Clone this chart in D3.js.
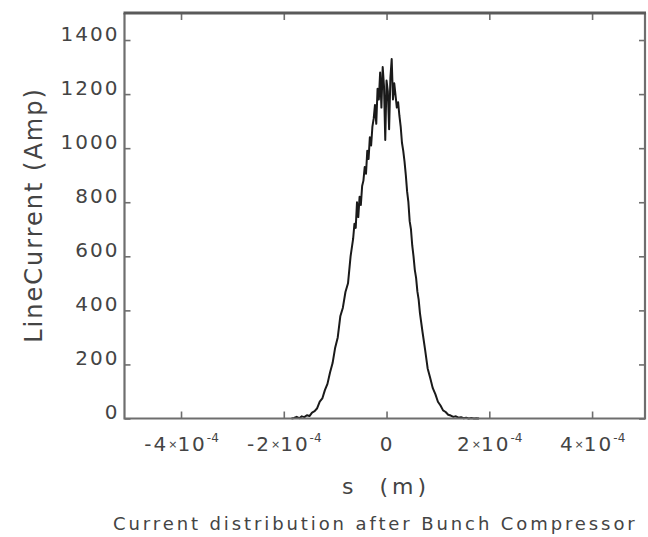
<html>
<head>
<meta charset="utf-8">
<title>Current distribution after Bunch Compressor</title>
<script src="https://d3js.org/d3.v7.min.js"></script>
<style>
    body { margin: 0; background: #fff; }
    svg { display: block; }
    .frame { fill: none; stroke: #6e6e6e; stroke-width: 2.2px; }
    .frame-top { stroke: #5a5a5a; stroke-width: 3px; }
    .axis path { display: none; }
    .axis line { stroke: #6e6e6e; stroke-width: 1.6px; }
    .axis text { fill: #444; font-family: "DejaVu Sans", sans-serif; font-size: 20px; letter-spacing: 2px; }
    .line { fill: none; stroke: #1a1a1a; stroke-width: 2px; stroke-linejoin: round; }
    .label { fill: #444; font-family: "DejaVu Sans", sans-serif; white-space: pre; }
</style>
</head>
<body>
<script>
    // s positions of the histogram bins (micrometres)
    var sMicron = [
        -185, -180, -175, -170, -165, -160, -155, -150, -145, -140, -135, -130, -125,
        -120, -115, -110, -105, -100, -95, -90, -85, -80, -75, -70, -65,
        -62.5, -60, -57.5, -55, -52.5, -50, -47.5, -45, -42.5, -40, -37.5, -35, -32.5,
        -30, -27.5, -25, -22.5, -20, -17.5, -15, -12.5, -10, -7.5, -5, -2.5,
        0, 2.5, 5, 7.5, 10, 12.5, 15, 17.5, 20, 22.5, 25, 27.5, 30, 32.5, 35, 37.5,
        40, 42.5, 45, 47.5, 50, 52.5, 55, 57.5, 60, 62.5,
        65, 70, 75, 80, 85, 90, 95, 100, 105, 110, 115, 120, 125, 130, 135, 140,
        145, 150, 155, 160, 165, 170, 175, 180
    ];
    // line current per bin (Amp)
    var currentAmp = [
        0, 2, 6, 1, 8, 5, 12, 9, 22, 27, 38, 62, 74,
        105, 128, 170, 205, 262, 300, 378, 410, 468, 500, 600, 665,
        720, 705, 800, 745, 820, 790, 860, 880, 930, 905, 990, 960, 1040,
        1010, 1080, 1110, 1160, 1090, 1220, 1180, 1280, 1150, 1300, 1230, 1030,
        1250, 1210, 1070, 1260, 1330, 1180, 1240, 1195, 1150, 1170, 1120, 1080, 1020, 990, 950, 900,
        840, 800, 730, 700, 640, 600, 550, 520, 470, 440,
        390, 320, 255, 185, 150, 112, 90, 62, 48, 30, 24, 14, 11, 6, 8, 3,
        5, 1, 3, 0, 2, 0, 1, 0
    ];

    // axis ticks
    var xTicks = [-4e-4, -2e-4, 0, 2e-4, 4e-4];
    var xTickMant = ["-4", "-2", "0", "2", "4"];
    var yTicks = [0, 200, 400, 600, 800, 1000, 1200, 1400];

    var width = 648, height = 537;
    var plot = { left: 124.5, right: 645, top: 13, bottom: 418.5 };

    var x = d3.scaleLinear().domain([-5.10e-4, 5.03e-4]).range([plot.left, plot.right]);
    var y = d3.scaleLinear().domain([0, 1500]).range([plot.bottom, plot.top]);

    var svg = d3.select("body").append("svg")
        .attr("width", width)
        .attr("height", height);

    var data = sMicron.map(function (s, i) {
        return { s: s * 1e-6, amp: currentAmp[i] };
    });

    // the curve
    var valueline = d3.line()
        .x(function (d) { return x(d.s); })
        .y(function (d) { return y(d.amp); });

    svg.append("path")
        .datum(data)
        .attr("class", "line")
        .attr("d", valueline);

    // left axis, ticks pointing inward, labels sit on the tick
    svg.append("g")
        .attr("class", "axis")
        .attr("transform", "translate(" + plot.left + ",0)")
        .call(d3.axisLeft(y).tickValues(yTicks).tickSize(-6).tickPadding(5).tickFormat(d3.format("d")))
        .selectAll("text").attr("dy", "0");

    // right axis, ticks only
    svg.append("g")
        .attr("class", "axis")
        .attr("transform", "translate(" + plot.right + ",0)")
        .call(d3.axisRight(y).tickValues(yTicks).tickSize(-6).tickFormat(""));

    // top axis, ticks only
    svg.append("g")
        .attr("class", "axis")
        .attr("transform", "translate(0," + plot.top + ")")
        .call(d3.axisTop(x).tickValues(xTicks).tickSize(-7).tickFormat(""));

    // bottom axis with a x10^n style labels
    var xAxis = svg.append("g")
        .attr("class", "axis")
        .attr("transform", "translate(0," + plot.bottom + ")")
        .call(d3.axisBottom(x).tickValues(xTicks).tickSize(-7).tickPadding(0));

    xAxis.selectAll("text")
        .attr("y", 32)
        .attr("dy", "0")
        .text(null)
        .each(function (d, i) {
            var t = d3.select(this);
            if (d === 0) {
                t.text("0");
                return;
            }
            t.append("tspan").text(xTickMant[i]);
            t.append("tspan").attr("font-size", "11px").attr("dy", "-3").attr("letter-spacing", "0px").text("\u00d7");
            t.append("tspan").attr("dy", "3").text("10");
            t.append("tspan").attr("font-size", "12px").attr("dy", "-9").attr("letter-spacing", "0px").text("-4");
        });

    // frame
    svg.append("path")
        .attr("class", "frame")
        .attr("d", "M" + plot.left + "," + plot.top + "V" + plot.bottom + "H" + plot.right + "V" + plot.top);
    svg.append("line")
        .attr("class", "frame frame-top")
        .attr("x1", plot.left - 1).attr("x2", plot.right + 1)
        .attr("y1", plot.top).attr("y2", plot.top);

    // axis titles
    svg.append("text")
        .attr("class", "label")
        .attr("transform", "translate(42,215) rotate(-90)")
        .attr("text-anchor", "middle")
        .style("font-size", "24px")
        .style("letter-spacing", "2px")
        .text("LineCurrent (Amp)");

    svg.append("text")
        .attr("class", "label")
        .attr("x", 386)
        .attr("y", 494)
        .attr("text-anchor", "middle")
        .style("font-size", "22px")
        .style("letter-spacing", "4px")
        .text("s  (m)");

    svg.append("text")
        .attr("class", "label")
        .attr("x", 113)
        .attr("y", 530)
        .style("font-size", "18px")
        .style("letter-spacing", "2.9px")
        .text("Current distribution after Bunch Compressor");
</script>
</body>
</html>
